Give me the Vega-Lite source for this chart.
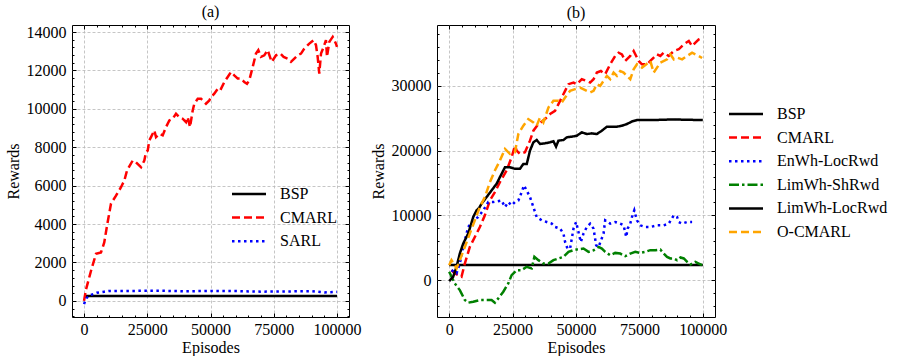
{
  "$schema": "https://vega.github.io/schema/vega-lite/v6.json",
  "padding": {"left": 4, "top": 3, "right": 0, "bottom": 0},
  "config": {
    "font": "Liberation Serif",
    "view": {"stroke": "#000000", "strokeWidth": 1},
    "axis": {"labelFont": "Liberation Serif", "titleFont": "Liberation Serif", "labelFontSize": 16, "titleFontSize": 16, "titleFontWeight": "normal", "labelColor": "#000", "titleColor": "#000", "domain": false, "gridColor": "#b8b8b8", "gridDash": [3, 2], "gridWidth": 0.8, "tickColor": "#000"},
    "axisX": {"labelPadding": 4, "titlePadding": 2},
    "axisY": {"labelPadding": 6, "titlePadding": 5},
    "legend": {"labelFont": "Liberation Serif", "labelFontSize": 16, "labelColor": "#000", "symbolType": "M-2,0H2", "symbolSize": 289, "symbolStrokeWidth": 2.5, "rowPadding": 5.6, "labelOffset": 21, "padding": 0, "title": null},
    "title": {"font": "Liberation Serif", "fontSize": 16, "fontWeight": "normal", "offset": 4}
  },
  "datasets": {
    "a": [
      {"s": "BSP", "x": 0, "y": 250}, {"s": "BSP", "x": 100000, "y": 250},
      {"s": "CMARL", "x": 0, "y": 0}, {"s": "CMARL", "x": 800, "y": 600}, {"s": "CMARL", "x": 2770, "y": 1570}, {"s": "CMARL", "x": 4740, "y": 2450}, {"s": "CMARL", "x": 6700, "y": 2520}, {"s": "CMARL", "x": 8000, "y": 3040}, {"s": "CMARL", "x": 9100, "y": 3920}, {"s": "CMARL", "x": 10670, "y": 5070}, {"s": "CMARL", "x": 12650, "y": 5480}, {"s": "CMARL", "x": 14620, "y": 5920}, {"s": "CMARL", "x": 15940, "y": 6270}, {"s": "CMARL", "x": 17000, "y": 6790}, {"s": "CMARL", "x": 19240, "y": 7310}, {"s": "CMARL", "x": 20550, "y": 7220}, {"s": "CMARL", "x": 22530, "y": 6960}, {"s": "CMARL", "x": 23840, "y": 7310}, {"s": "CMARL", "x": 24500, "y": 7750}, {"s": "CMARL", "x": 25180, "y": 7830}, {"s": "CMARL", "x": 25820, "y": 8360}, {"s": "CMARL", "x": 26480, "y": 8530}, {"s": "CMARL", "x": 27800, "y": 8880}, {"s": "CMARL", "x": 28460, "y": 8530}, {"s": "CMARL", "x": 29770, "y": 8700}, {"s": "CMARL", "x": 31100, "y": 8620}, {"s": "CMARL", "x": 32400, "y": 9050}, {"s": "CMARL", "x": 33730, "y": 9400}, {"s": "CMARL", "x": 35050, "y": 9490}, {"s": "CMARL", "x": 36360, "y": 9750}, {"s": "CMARL", "x": 37670, "y": 9570}, {"s": "CMARL", "x": 39000, "y": 9490}, {"s": "CMARL", "x": 40320, "y": 9310}, {"s": "CMARL", "x": 40990, "y": 9570}, {"s": "CMARL", "x": 41900, "y": 9050}, {"s": "CMARL", "x": 42960, "y": 9920}, {"s": "CMARL", "x": 43600, "y": 10270}, {"s": "CMARL", "x": 44960, "y": 10530}, {"s": "CMARL", "x": 46250, "y": 10530}, {"s": "CMARL", "x": 46900, "y": 10440}, {"s": "CMARL", "x": 48220, "y": 10270}, {"s": "CMARL", "x": 49530, "y": 10440}, {"s": "CMARL", "x": 50200, "y": 10620}, {"s": "CMARL", "x": 51500, "y": 10790}, {"s": "CMARL", "x": 52850, "y": 11050}, {"s": "CMARL", "x": 53870, "y": 10970}, {"s": "CMARL", "x": 55460, "y": 11400}, {"s": "CMARL", "x": 56800, "y": 11660}, {"s": "CMARL", "x": 58100, "y": 11920}, {"s": "CMARL", "x": 59400, "y": 11750}, {"s": "CMARL", "x": 60760, "y": 11580}, {"s": "CMARL", "x": 62060, "y": 11580}, {"s": "CMARL", "x": 63360, "y": 11400}, {"s": "CMARL", "x": 64430, "y": 11310}, {"s": "CMARL", "x": 65330, "y": 11490}, {"s": "CMARL", "x": 66680, "y": 12180}, {"s": "CMARL", "x": 67980, "y": 12880}, {"s": "CMARL", "x": 68900, "y": 13060}, {"s": "CMARL", "x": 69960, "y": 12710}, {"s": "CMARL", "x": 71260, "y": 12790}, {"s": "CMARL", "x": 72600, "y": 13060}, {"s": "CMARL", "x": 74190, "y": 12450}, {"s": "CMARL", "x": 75890, "y": 12790}, {"s": "CMARL", "x": 77600, "y": 12880}, {"s": "CMARL", "x": 78900, "y": 12710}, {"s": "CMARL", "x": 80500, "y": 12620}, {"s": "CMARL", "x": 81820, "y": 12450}, {"s": "CMARL", "x": 83130, "y": 12620}, {"s": "CMARL", "x": 84450, "y": 12790}, {"s": "CMARL", "x": 85770, "y": 12880}, {"s": "CMARL", "x": 87080, "y": 13140}, {"s": "CMARL", "x": 89060, "y": 13400}, {"s": "CMARL", "x": 90780, "y": 13580}, {"s": "CMARL", "x": 91700, "y": 13320}, {"s": "CMARL", "x": 92360, "y": 12710}, {"s": "CMARL", "x": 93000, "y": 11840}, {"s": "CMARL", "x": 93680, "y": 12880}, {"s": "CMARL", "x": 94740, "y": 13230}, {"s": "CMARL", "x": 95650, "y": 13580}, {"s": "CMARL", "x": 96050, "y": 12710}, {"s": "CMARL", "x": 96960, "y": 13490}, {"s": "CMARL", "x": 98300, "y": 13750}, {"s": "CMARL", "x": 99600, "y": 13400}, {"s": "CMARL", "x": 100000, "y": 13230},
      {"s": "SARL", "x": 0, "y": -170}, {"s": "SARL", "x": 1000, "y": 150}, {"s": "SARL", "x": 2500, "y": 300}, {"s": "SARL", "x": 5000, "y": 420}, {"s": "SARL", "x": 8000, "y": 480}, {"s": "SARL", "x": 10000, "y": 520}, {"s": "SARL", "x": 20000, "y": 520}, {"s": "SARL", "x": 30000, "y": 530}, {"s": "SARL", "x": 40000, "y": 500}, {"s": "SARL", "x": 50000, "y": 520}, {"s": "SARL", "x": 60000, "y": 510}, {"s": "SARL", "x": 70000, "y": 480}, {"s": "SARL", "x": 80000, "y": 490}, {"s": "SARL", "x": 90000, "y": 510}, {"s": "SARL", "x": 95000, "y": 440}, {"s": "SARL", "x": 100000, "y": 470}
    ],
    "b": [
      {"s": "BSP", "x": 0, "y": 2350}, {"s": "BSP", "x": 100000, "y": 2350},
      {"s": "CMARL", "x": 900, "y": 1540}, {"s": "CMARL", "x": 2200, "y": 1030}, {"s": "CMARL", "x": 4860, "y": 510}, {"s": "CMARL", "x": 6170, "y": 2560}, {"s": "CMARL", "x": 8140, "y": 5120}, {"s": "CMARL", "x": 10120, "y": 6660}, {"s": "CMARL", "x": 12100, "y": 8200}, {"s": "CMARL", "x": 14080, "y": 10000}, {"s": "CMARL", "x": 16050, "y": 12300}, {"s": "CMARL", "x": 18020, "y": 13580}, {"s": "CMARL", "x": 20000, "y": 15120}, {"s": "CMARL", "x": 22650, "y": 16920}, {"s": "CMARL", "x": 24620, "y": 18970}, {"s": "CMARL", "x": 25930, "y": 20770}, {"s": "CMARL", "x": 26600, "y": 20000}, {"s": "CMARL", "x": 27900, "y": 19490}, {"s": "CMARL", "x": 29880, "y": 19740}, {"s": "CMARL", "x": 31860, "y": 21540}, {"s": "CMARL", "x": 33200, "y": 23080}, {"s": "CMARL", "x": 35180, "y": 24100}, {"s": "CMARL", "x": 37790, "y": 24870}, {"s": "CMARL", "x": 39770, "y": 25650}, {"s": "CMARL", "x": 41740, "y": 26150}, {"s": "CMARL", "x": 43080, "y": 27180}, {"s": "CMARL", "x": 44390, "y": 28200}, {"s": "CMARL", "x": 45700, "y": 29230}, {"s": "CMARL", "x": 47040, "y": 30260}, {"s": "CMARL", "x": 49010, "y": 30510}, {"s": "CMARL", "x": 50320, "y": 30260}, {"s": "CMARL", "x": 52290, "y": 31030}, {"s": "CMARL", "x": 54270, "y": 30770}, {"s": "CMARL", "x": 55580, "y": 30510}, {"s": "CMARL", "x": 56920, "y": 31030}, {"s": "CMARL", "x": 58220, "y": 32050}, {"s": "CMARL", "x": 59810, "y": 32300}, {"s": "CMARL", "x": 61500, "y": 31800}, {"s": "CMARL", "x": 63480, "y": 33330}, {"s": "CMARL", "x": 65450, "y": 34620}, {"s": "CMARL", "x": 66800, "y": 35120}, {"s": "CMARL", "x": 68100, "y": 34870}, {"s": "CMARL", "x": 69420, "y": 33850}, {"s": "CMARL", "x": 71400, "y": 34620}, {"s": "CMARL", "x": 72720, "y": 35380}, {"s": "CMARL", "x": 74700, "y": 33850}, {"s": "CMARL", "x": 76000, "y": 33330}, {"s": "CMARL", "x": 77980, "y": 33330}, {"s": "CMARL", "x": 79300, "y": 33850}, {"s": "CMARL", "x": 80630, "y": 34360}, {"s": "CMARL", "x": 81940, "y": 34870}, {"s": "CMARL", "x": 83250, "y": 34620}, {"s": "CMARL", "x": 84580, "y": 35120}, {"s": "CMARL", "x": 86560, "y": 34620}, {"s": "CMARL", "x": 88540, "y": 35380}, {"s": "CMARL", "x": 90510, "y": 35650}, {"s": "CMARL", "x": 92490, "y": 36420}, {"s": "CMARL", "x": 94470, "y": 36920}, {"s": "CMARL", "x": 95770, "y": 36150}, {"s": "CMARL", "x": 97080, "y": 36670}, {"s": "CMARL", "x": 98420, "y": 37180}, {"s": "CMARL", "x": 99720, "y": 37430},
      {"s": "EnWh-LocRwd", "x": 900, "y": 1540}, {"s": "EnWh-LocRwd", "x": 2900, "y": 1030}, {"s": "EnWh-LocRwd", "x": 4200, "y": 2560}, {"s": "EnWh-LocRwd", "x": 5530, "y": 5120}, {"s": "EnWh-LocRwd", "x": 7500, "y": 8200}, {"s": "EnWh-LocRwd", "x": 9480, "y": 9230}, {"s": "EnWh-LocRwd", "x": 11460, "y": 9740}, {"s": "EnWh-LocRwd", "x": 13440, "y": 10770}, {"s": "EnWh-LocRwd", "x": 15410, "y": 12050}, {"s": "EnWh-LocRwd", "x": 17390, "y": 12050}, {"s": "EnWh-LocRwd", "x": 20670, "y": 12300}, {"s": "EnWh-LocRwd", "x": 22000, "y": 11280}, {"s": "EnWh-LocRwd", "x": 23300, "y": 12050}, {"s": "EnWh-LocRwd", "x": 24620, "y": 11540}, {"s": "EnWh-LocRwd", "x": 25930, "y": 12050}, {"s": "EnWh-LocRwd", "x": 27270, "y": 12300}, {"s": "EnWh-LocRwd", "x": 28580, "y": 13580}, {"s": "EnWh-LocRwd", "x": 29500, "y": 14620}, {"s": "EnWh-LocRwd", "x": 30550, "y": 13850}, {"s": "EnWh-LocRwd", "x": 31860, "y": 12820}, {"s": "EnWh-LocRwd", "x": 33200, "y": 11280}, {"s": "EnWh-LocRwd", "x": 34500, "y": 9740}, {"s": "EnWh-LocRwd", "x": 36480, "y": 9230}, {"s": "EnWh-LocRwd", "x": 38460, "y": 8970}, {"s": "EnWh-LocRwd", "x": 40440, "y": 8720}, {"s": "EnWh-LocRwd", "x": 41740, "y": 8200}, {"s": "EnWh-LocRwd", "x": 43720, "y": 7950}, {"s": "EnWh-LocRwd", "x": 45060, "y": 7180}, {"s": "EnWh-LocRwd", "x": 45700, "y": 5890}, {"s": "EnWh-LocRwd", "x": 46640, "y": 4870}, {"s": "EnWh-LocRwd", "x": 47670, "y": 4870}, {"s": "EnWh-LocRwd", "x": 49010, "y": 7950}, {"s": "EnWh-LocRwd", "x": 50050, "y": 8970}, {"s": "EnWh-LocRwd", "x": 51900, "y": 5890}, {"s": "EnWh-LocRwd", "x": 52950, "y": 7180}, {"s": "EnWh-LocRwd", "x": 54270, "y": 8200}, {"s": "EnWh-LocRwd", "x": 55580, "y": 8720}, {"s": "EnWh-LocRwd", "x": 56920, "y": 7950}, {"s": "EnWh-LocRwd", "x": 57950, "y": 5380}, {"s": "EnWh-LocRwd", "x": 58890, "y": 5120}, {"s": "EnWh-LocRwd", "x": 60860, "y": 7180}, {"s": "EnWh-LocRwd", "x": 61500, "y": 9230}, {"s": "EnWh-LocRwd", "x": 63480, "y": 8720}, {"s": "EnWh-LocRwd", "x": 65450, "y": 8970}, {"s": "EnWh-LocRwd", "x": 67430, "y": 8720}, {"s": "EnWh-LocRwd", "x": 68770, "y": 8460}, {"s": "EnWh-LocRwd", "x": 69800, "y": 6660}, {"s": "EnWh-LocRwd", "x": 70350, "y": 7950}, {"s": "EnWh-LocRwd", "x": 71400, "y": 8720}, {"s": "EnWh-LocRwd", "x": 72060, "y": 9740}, {"s": "EnWh-LocRwd", "x": 72980, "y": 10770}, {"s": "EnWh-LocRwd", "x": 74030, "y": 9230}, {"s": "EnWh-LocRwd", "x": 75340, "y": 8460}, {"s": "EnWh-LocRwd", "x": 77320, "y": 8200}, {"s": "EnWh-LocRwd", "x": 79300, "y": 8200}, {"s": "EnWh-LocRwd", "x": 81940, "y": 8460}, {"s": "EnWh-LocRwd", "x": 84580, "y": 8460}, {"s": "EnWh-LocRwd", "x": 86560, "y": 8720}, {"s": "EnWh-LocRwd", "x": 88540, "y": 10000}, {"s": "EnWh-LocRwd", "x": 89860, "y": 9740}, {"s": "EnWh-LocRwd", "x": 90510, "y": 8970}, {"s": "EnWh-LocRwd", "x": 91840, "y": 8720}, {"s": "EnWh-LocRwd", "x": 93820, "y": 8970}, {"s": "EnWh-LocRwd", "x": 95770, "y": 8970},
      {"s": "LimWh-ShRwd", "x": 0, "y": 1280}, {"s": "LimWh-ShRwd", "x": 2200, "y": -510}, {"s": "LimWh-ShRwd", "x": 4200, "y": -1540}, {"s": "LimWh-ShRwd", "x": 6170, "y": -3080}, {"s": "LimWh-ShRwd", "x": 7500, "y": -3490}, {"s": "LimWh-ShRwd", "x": 9480, "y": -3340}, {"s": "LimWh-ShRwd", "x": 12100, "y": -3080}, {"s": "LimWh-ShRwd", "x": 14750, "y": -3080}, {"s": "LimWh-ShRwd", "x": 16720, "y": -3080}, {"s": "LimWh-ShRwd", "x": 18020, "y": -3490}, {"s": "LimWh-ShRwd", "x": 19370, "y": -2820}, {"s": "LimWh-ShRwd", "x": 21340, "y": -1800}, {"s": "LimWh-ShRwd", "x": 23300, "y": -510}, {"s": "LimWh-ShRwd", "x": 24620, "y": 770}, {"s": "LimWh-ShRwd", "x": 26600, "y": 1540}, {"s": "LimWh-ShRwd", "x": 28580, "y": 1540}, {"s": "LimWh-ShRwd", "x": 30550, "y": 2050}, {"s": "LimWh-ShRwd", "x": 32530, "y": 1800}, {"s": "LimWh-ShRwd", "x": 33600, "y": 3590}, {"s": "LimWh-ShRwd", "x": 35180, "y": 3080}, {"s": "LimWh-ShRwd", "x": 37140, "y": 2560}, {"s": "LimWh-ShRwd", "x": 39130, "y": 2560}, {"s": "LimWh-ShRwd", "x": 41100, "y": 3080}, {"s": "LimWh-ShRwd", "x": 43080, "y": 3340}, {"s": "LimWh-ShRwd", "x": 45060, "y": 3590}, {"s": "LimWh-ShRwd", "x": 47040, "y": 4360}, {"s": "LimWh-ShRwd", "x": 49010, "y": 4620}, {"s": "LimWh-ShRwd", "x": 50980, "y": 4770}, {"s": "LimWh-ShRwd", "x": 52950, "y": 4870}, {"s": "LimWh-ShRwd", "x": 54930, "y": 4360}, {"s": "LimWh-ShRwd", "x": 56920, "y": 4600}, {"s": "LimWh-ShRwd", "x": 58890, "y": 5120}, {"s": "LimWh-ShRwd", "x": 60200, "y": 4870}, {"s": "LimWh-ShRwd", "x": 61500, "y": 4360}, {"s": "LimWh-ShRwd", "x": 63480, "y": 3850}, {"s": "LimWh-ShRwd", "x": 65450, "y": 4200}, {"s": "LimWh-ShRwd", "x": 67430, "y": 4100}, {"s": "LimWh-ShRwd", "x": 69420, "y": 3690}, {"s": "LimWh-ShRwd", "x": 71400, "y": 4100}, {"s": "LimWh-ShRwd", "x": 73370, "y": 4360}, {"s": "LimWh-ShRwd", "x": 75340, "y": 4200}, {"s": "LimWh-ShRwd", "x": 77320, "y": 4360}, {"s": "LimWh-ShRwd", "x": 79300, "y": 4620}, {"s": "LimWh-ShRwd", "x": 81300, "y": 4620}, {"s": "LimWh-ShRwd", "x": 83250, "y": 4720}, {"s": "LimWh-ShRwd", "x": 84580, "y": 4100}, {"s": "LimWh-ShRwd", "x": 85900, "y": 3590}, {"s": "LimWh-ShRwd", "x": 87200, "y": 3340}, {"s": "LimWh-ShRwd", "x": 88540, "y": 3340}, {"s": "LimWh-ShRwd", "x": 89860, "y": 3080}, {"s": "LimWh-ShRwd", "x": 91180, "y": 3490}, {"s": "LimWh-ShRwd", "x": 92500, "y": 3340}, {"s": "LimWh-ShRwd", "x": 93820, "y": 2820}, {"s": "LimWh-ShRwd", "x": 95120, "y": 2410}, {"s": "LimWh-ShRwd", "x": 97080, "y": 2820}, {"s": "LimWh-ShRwd", "x": 98400, "y": 2560}, {"s": "LimWh-ShRwd", "x": 99720, "y": 2310},
      {"s": "LimWh-LocRwd", "x": 0, "y": -150}, {"s": "LimWh-LocRwd", "x": 1580, "y": 510}, {"s": "LimWh-LocRwd", "x": 2900, "y": 2050}, {"s": "LimWh-LocRwd", "x": 4200, "y": 4100}, {"s": "LimWh-LocRwd", "x": 5530, "y": 5640}, {"s": "LimWh-LocRwd", "x": 7500, "y": 7180}, {"s": "LimWh-LocRwd", "x": 9480, "y": 9740}, {"s": "LimWh-LocRwd", "x": 10800, "y": 10770}, {"s": "LimWh-LocRwd", "x": 11850, "y": 11180}, {"s": "LimWh-LocRwd", "x": 12770, "y": 11800}, {"s": "LimWh-LocRwd", "x": 14750, "y": 12820}, {"s": "LimWh-LocRwd", "x": 16720, "y": 13850}, {"s": "LimWh-LocRwd", "x": 18700, "y": 14880}, {"s": "LimWh-LocRwd", "x": 20000, "y": 15900}, {"s": "LimWh-LocRwd", "x": 22000, "y": 17430}, {"s": "LimWh-LocRwd", "x": 23950, "y": 17430}, {"s": "LimWh-LocRwd", "x": 25930, "y": 17180}, {"s": "LimWh-LocRwd", "x": 27900, "y": 17180}, {"s": "LimWh-LocRwd", "x": 29250, "y": 17950}, {"s": "LimWh-LocRwd", "x": 30600, "y": 17950}, {"s": "LimWh-LocRwd", "x": 31860, "y": 20000}, {"s": "LimWh-LocRwd", "x": 33200, "y": 21280}, {"s": "LimWh-LocRwd", "x": 34500, "y": 21640}, {"s": "LimWh-LocRwd", "x": 35820, "y": 21030}, {"s": "LimWh-LocRwd", "x": 37790, "y": 21130}, {"s": "LimWh-LocRwd", "x": 39770, "y": 21280}, {"s": "LimWh-LocRwd", "x": 41100, "y": 21440}, {"s": "LimWh-LocRwd", "x": 42140, "y": 20620}, {"s": "LimWh-LocRwd", "x": 43080, "y": 21540}, {"s": "LimWh-LocRwd", "x": 45060, "y": 21640}, {"s": "LimWh-LocRwd", "x": 46360, "y": 22050}, {"s": "LimWh-LocRwd", "x": 48340, "y": 22150}, {"s": "LimWh-LocRwd", "x": 50320, "y": 22300}, {"s": "LimWh-LocRwd", "x": 52290, "y": 22820}, {"s": "LimWh-LocRwd", "x": 54270, "y": 22560}, {"s": "LimWh-LocRwd", "x": 56250, "y": 22660}, {"s": "LimWh-LocRwd", "x": 58220, "y": 22560}, {"s": "LimWh-LocRwd", "x": 60200, "y": 23080}, {"s": "LimWh-LocRwd", "x": 62170, "y": 23690}, {"s": "LimWh-LocRwd", "x": 64150, "y": 23690}, {"s": "LimWh-LocRwd", "x": 66130, "y": 23690}, {"s": "LimWh-LocRwd", "x": 68100, "y": 23850}, {"s": "LimWh-LocRwd", "x": 70080, "y": 24100}, {"s": "LimWh-LocRwd", "x": 72060, "y": 24500}, {"s": "LimWh-LocRwd", "x": 74030, "y": 24720}, {"s": "LimWh-LocRwd", "x": 80630, "y": 24720}, {"s": "LimWh-LocRwd", "x": 88540, "y": 24820}, {"s": "LimWh-LocRwd", "x": 92490, "y": 24770}, {"s": "LimWh-LocRwd", "x": 100000, "y": 24720},
      {"s": "O-CMARL", "x": 0, "y": 2300}, {"s": "O-CMARL", "x": 900, "y": 3080}, {"s": "O-CMARL", "x": 2900, "y": 1800}, {"s": "O-CMARL", "x": 4200, "y": 3080}, {"s": "O-CMARL", "x": 6170, "y": 5120}, {"s": "O-CMARL", "x": 8140, "y": 7180}, {"s": "O-CMARL", "x": 10120, "y": 9230}, {"s": "O-CMARL", "x": 12100, "y": 11280}, {"s": "O-CMARL", "x": 14080, "y": 12820}, {"s": "O-CMARL", "x": 16050, "y": 15120}, {"s": "O-CMARL", "x": 18020, "y": 16920}, {"s": "O-CMARL", "x": 20000, "y": 18460}, {"s": "O-CMARL", "x": 22000, "y": 20260}, {"s": "O-CMARL", "x": 23950, "y": 19490}, {"s": "O-CMARL", "x": 25930, "y": 19740}, {"s": "O-CMARL", "x": 27270, "y": 22560}, {"s": "O-CMARL", "x": 29250, "y": 23850}, {"s": "O-CMARL", "x": 31200, "y": 24870}, {"s": "O-CMARL", "x": 33200, "y": 24360}, {"s": "O-CMARL", "x": 34500, "y": 23850}, {"s": "O-CMARL", "x": 35820, "y": 25130}, {"s": "O-CMARL", "x": 37140, "y": 24360}, {"s": "O-CMARL", "x": 39130, "y": 26660}, {"s": "O-CMARL", "x": 41100, "y": 27690}, {"s": "O-CMARL", "x": 43080, "y": 27690}, {"s": "O-CMARL", "x": 44390, "y": 27430}, {"s": "O-CMARL", "x": 45700, "y": 28200}, {"s": "O-CMARL", "x": 47670, "y": 29230}, {"s": "O-CMARL", "x": 49650, "y": 29490}, {"s": "O-CMARL", "x": 51620, "y": 29740}, {"s": "O-CMARL", "x": 54270, "y": 29230}, {"s": "O-CMARL", "x": 55580, "y": 28970}, {"s": "O-CMARL", "x": 56920, "y": 29230}, {"s": "O-CMARL", "x": 58220, "y": 30260}, {"s": "O-CMARL", "x": 59530, "y": 30000}, {"s": "O-CMARL", "x": 60860, "y": 30770}, {"s": "O-CMARL", "x": 62170, "y": 31540}, {"s": "O-CMARL", "x": 63480, "y": 31030}, {"s": "O-CMARL", "x": 64820, "y": 32050}, {"s": "O-CMARL", "x": 66130, "y": 31540}, {"s": "O-CMARL", "x": 67430, "y": 32300}, {"s": "O-CMARL", "x": 68770, "y": 32050}, {"s": "O-CMARL", "x": 70080, "y": 31540}, {"s": "O-CMARL", "x": 71400, "y": 31030}, {"s": "O-CMARL", "x": 72720, "y": 32560}, {"s": "O-CMARL", "x": 74030, "y": 33330}, {"s": "O-CMARL", "x": 76000, "y": 32820}, {"s": "O-CMARL", "x": 77600, "y": 33300}, {"s": "O-CMARL", "x": 79300, "y": 33850}, {"s": "O-CMARL", "x": 80630, "y": 32050}, {"s": "O-CMARL", "x": 81940, "y": 32820}, {"s": "O-CMARL", "x": 83250, "y": 33590}, {"s": "O-CMARL", "x": 85900, "y": 34100}, {"s": "O-CMARL", "x": 87200, "y": 34870}, {"s": "O-CMARL", "x": 88540, "y": 34100}, {"s": "O-CMARL", "x": 89860, "y": 34360}, {"s": "O-CMARL", "x": 91840, "y": 34100}, {"s": "O-CMARL", "x": 93820, "y": 34620}, {"s": "O-CMARL", "x": 95770, "y": 35120}, {"s": "O-CMARL", "x": 97080, "y": 34870}, {"s": "O-CMARL", "x": 98400, "y": 34600}, {"s": "O-CMARL", "x": 99720, "y": 34300}
    ]
  },
  "hconcat": [
    {
      "title": "(a)",
      "width": 277,
      "height": 292,
      "data": {"name": "a"},
      "layer": [
        {
          "mark": {"type": "line", "strokeWidth": 2.5},
          "encoding": {
            "x": {"field": "x", "type": "quantitative", "scale": {"domain": [-4750, 104750], "nice": false, "zero": false}, "axis": {"orient": "bottom", "title": "Episodes", "values": [0, 25000, 50000, 75000, 100000], "format": "d", "ticks": false, "tickSize": 0, "grid": true}},
            "y": {"field": "y", "type": "quantitative", "scale": {"domain": [-840, 14370], "nice": false, "zero": false}, "axis": {"orient": "left", "title": "Rewards", "values": [0, 2000, 4000, 6000, 8000, 10000, 12000, 14000], "format": "d", "ticks": false, "tickSize": 0, "grid": true}},
            "color": {"field": "s", "type": "nominal", "scale": {"domain": ["BSP", "CMARL", "SARL"], "range": ["#000000", "#ff0000", "#0000ff"]}, "legend": {"orient": "none", "legendX": 167, "legendY": 159}},
            "strokeDash": {"field": "s", "type": "nominal", "scale": {"domain": ["BSP", "CMARL", "SARL"], "range": [[1, 0], [8, 4], [2.5, 3.5]]}, "legend": {"orient": "none", "legendX": 167, "legendY": 159}}
          }
        },
        {
          "mark": {"type": "line", "strokeOpacity": 0},
          "encoding": {
            "x": {"field": "x", "type": "quantitative", "axis": {"orient": "top", "title": null, "labels": false, "grid": false, "values": [0, 25000, 50000, 75000, 100000], "tickSize": -4}},
            "y": {"field": "y", "type": "quantitative", "axis": {"orient": "right", "title": null, "labels": false, "grid": false, "values": [0, 2000, 4000, 6000, 8000, 10000, 12000, 14000], "tickSize": -4}},
            "detail": {"field": "s"}
          }
        },
        {
          "mark": {"type": "line", "strokeOpacity": 0},
          "encoding": {
            "x": {"field": "x", "type": "quantitative", "axis": {"orient": "bottom", "title": null, "labels": false, "grid": false, "values": [0, 25000, 50000, 75000, 100000], "tickSize": -4}},
            "y": {"field": "y", "type": "quantitative", "axis": {"orient": "left", "title": null, "labels": false, "grid": false, "values": [0, 2000, 4000, 6000, 8000, 10000, 12000, 14000], "tickSize": -4}},
            "detail": {"field": "s"}
          }
        },
        {
          "mark": {"type": "line", "strokeOpacity": 0},
          "encoding": {
            "x": {"field": "x", "type": "quantitative", "axis": {"orient": "bottom", "title": null, "labels": false, "grid": false, "values": [5000, 10000, 15000, 20000, 30000, 35000, 40000, 45000, 55000, 60000, 65000, 70000, 80000, 85000, 90000, 95000], "tickSize": -2}},
            "y": {"field": "y", "type": "quantitative", "axis": {"orient": "left", "title": null, "labels": false, "grid": false, "values": [-800, -400, 400, 800, 1200, 1600, 2400, 2800, 3200, 3600, 4400, 4800, 5200, 5600, 6400, 6800, 7200, 7600, 8400, 8800, 9200, 9600, 10400, 10800, 11200, 11600, 12400, 12800, 13200, 13600], "tickSize": -2}},
            "detail": {"field": "s"}
          }
        },
        {
          "mark": {"type": "line", "strokeOpacity": 0},
          "encoding": {
            "x": {"field": "x", "type": "quantitative", "axis": {"orient": "top", "title": null, "labels": false, "grid": false, "values": [5000, 10000, 15000, 20000, 30000, 35000, 40000, 45000, 55000, 60000, 65000, 70000, 80000, 85000, 90000, 95000], "tickSize": -2}},
            "y": {"field": "y", "type": "quantitative", "axis": {"orient": "right", "title": null, "labels": false, "grid": false, "values": [-800, -400, 400, 800, 1200, 1600, 2400, 2800, 3200, 3600, 4400, 4800, 5200, 5600, 6400, 6800, 7200, 7600, 8400, 8800, 9200, 9600, 10400, 10800, 11200, 11600, 12400, 12800, 13200, 13600], "tickSize": -2}},
            "detail": {"field": "s"}
          }
        }
      ],
      "resolve": {"axis": {"x": "independent", "y": "independent"}}
    },
    {
      "title": "(b)",
      "width": 278,
      "height": 292,
      "data": {"name": "b"},
      "layer": [
        {
          "mark": {"type": "line", "strokeWidth": 2.5},
          "encoding": {
            "x": {"field": "x", "type": "quantitative", "scale": {"domain": [-4800, 104800], "nice": false, "zero": false}, "axis": {"orient": "bottom", "title": "Episodes", "values": [0, 25000, 50000, 75000, 100000], "format": "d", "ticks": false, "tickSize": 0, "grid": true}},
            "y": {"field": "y", "type": "quantitative", "scale": {"domain": [-5700, 39400], "nice": false, "zero": false}, "axis": {"orient": "left", "title": "Rewards", "values": [0, 10000, 20000, 30000], "format": "d", "ticks": false, "tickSize": 0, "grid": true}},
            "color": {"field": "s", "type": "nominal", "scale": {"domain": ["BSP", "CMARL", "EnWh-LocRwd", "LimWh-ShRwd", "LimWh-LocRwd", "O-CMARL"], "range": ["#000000", "#ff0000", "#0000ff", "#008000", "#000000", "#ffa500"]}, "legend": {"orient": "none", "legendX": 299, "legendY": 79}},
            "strokeDash": {"field": "s", "type": "nominal", "scale": {"domain": ["BSP", "CMARL", "EnWh-LocRwd", "LimWh-ShRwd", "LimWh-LocRwd", "O-CMARL"], "range": [[1, 0], [8, 4], [2.5, 3.5], [10, 3, 2.5, 3], [1, 0], [8, 4]]}, "legend": {"orient": "none", "legendX": 299, "legendY": 79}}
          }
        },
        {
          "mark": {"type": "line", "strokeOpacity": 0},
          "encoding": {
            "x": {"field": "x", "type": "quantitative", "axis": {"orient": "top", "title": null, "labels": false, "grid": false, "values": [0, 25000, 50000, 75000, 100000], "tickSize": -4}},
            "y": {"field": "y", "type": "quantitative", "axis": {"orient": "right", "title": null, "labels": false, "grid": false, "values": [0, 10000, 20000, 30000], "tickSize": -4}},
            "detail": {"field": "s"}
          }
        },
        {
          "mark": {"type": "line", "strokeOpacity": 0},
          "encoding": {
            "x": {"field": "x", "type": "quantitative", "axis": {"orient": "bottom", "title": null, "labels": false, "grid": false, "values": [0, 25000, 50000, 75000, 100000], "tickSize": -4}},
            "y": {"field": "y", "type": "quantitative", "axis": {"orient": "left", "title": null, "labels": false, "grid": false, "values": [0, 10000, 20000, 30000], "tickSize": -4}},
            "detail": {"field": "s"}
          }
        },
        {
          "mark": {"type": "line", "strokeOpacity": 0},
          "encoding": {
            "x": {"field": "x", "type": "quantitative", "axis": {"orient": "bottom", "title": null, "labels": false, "grid": false, "values": [5000, 10000, 15000, 20000, 30000, 35000, 40000, 45000, 55000, 60000, 65000, 70000, 80000, 85000, 90000, 95000], "tickSize": -2}},
            "y": {"field": "y", "type": "quantitative", "axis": {"orient": "left", "title": null, "labels": false, "grid": false, "values": [-4000, -2000, 2000, 4000, 6000, 8000, 12000, 14000, 16000, 18000, 22000, 24000, 26000, 28000, 32000, 34000, 36000, 38000], "tickSize": -2}},
            "detail": {"field": "s"}
          }
        },
        {
          "mark": {"type": "line", "strokeOpacity": 0},
          "encoding": {
            "x": {"field": "x", "type": "quantitative", "axis": {"orient": "top", "title": null, "labels": false, "grid": false, "values": [5000, 10000, 15000, 20000, 30000, 35000, 40000, 45000, 55000, 60000, 65000, 70000, 80000, 85000, 90000, 95000], "tickSize": -2}},
            "y": {"field": "y", "type": "quantitative", "axis": {"orient": "right", "title": null, "labels": false, "grid": false, "values": [-4000, -2000, 2000, 4000, 6000, 8000, 12000, 14000, 16000, 18000, 22000, 24000, 26000, 28000, 32000, 34000, 36000, 38000], "tickSize": -2}},
            "detail": {"field": "s"}
          }
        }
      ],
      "resolve": {"axis": {"x": "independent", "y": "independent"}}
    }
  ],
  "spacing": 7,
  "resolve": {"scale": {"color": "independent", "strokeDash": "independent"}}
}
